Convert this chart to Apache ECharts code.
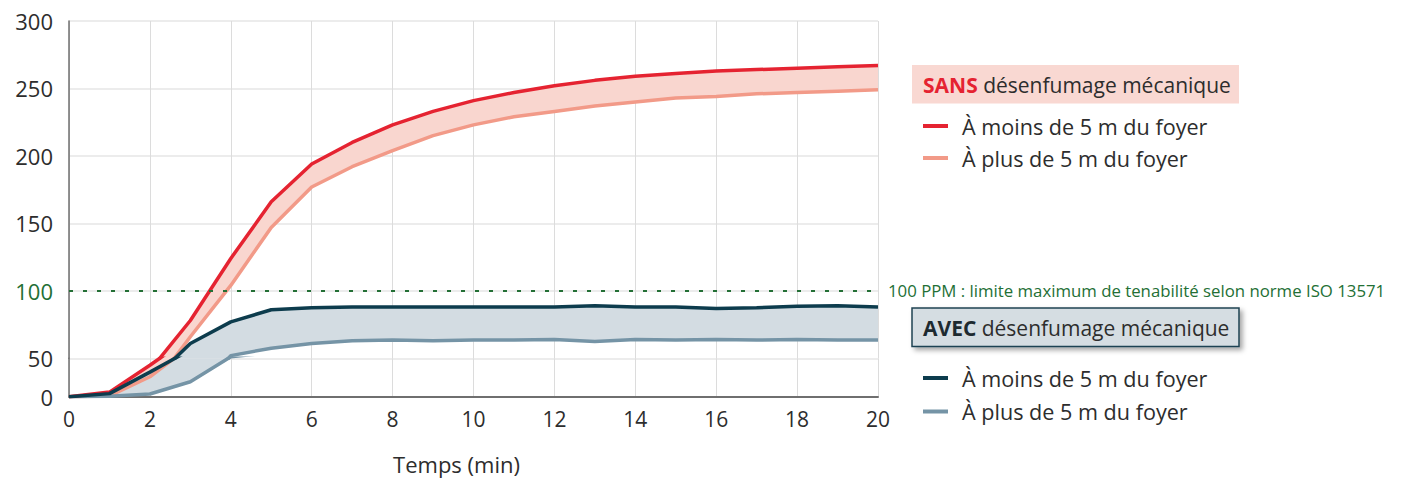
<!DOCTYPE html>
<html>
<head>
<meta charset="utf-8">
<script src="https://cdn.jsdelivr.net/npm/echarts@6/dist/echarts.min.js"></script>
<style>
html,body{margin:0;padding:0;background:#fff;}
#chart{width:1428px;height:479px;}
</style>
</head>
<body>
<div id="chart"></div>
<script>
// ---- Data ----
const minutes = ['0','1','2','3','4','5','6','7','8','9','10','11','12','13','14','15','16','17','18','19','20'];
const sansMoins = [0, 6, 41, 78, 124, 166, 194, 210, 223, 233, 241, 247, 252, 256, 259, 261, 263, 264, 265, 266, 267];
const sansPlus  = [0, 1, 26, 66, 104, 147, 177, 192, 204, 215, 223, 229, 233, 237, 240, 243, 244, 246, 247, 248, 249];
const avecMoins = [0, 4, 32, 61, 77, 86, 87.5, 88, 88, 88, 88, 88, 88, 89, 88, 88, 87, 87.5, 88.5, 89, 88];
const avecPlus  = [0, 0.5, 3.5, 19.5, 52, 57.5, 61, 63, 63.5, 63, 63.5, 63.5, 64, 62.5, 64, 63.5, 64, 63.5, 64, 63.5, 63.5];
const limitValue = 100;
const limitLabel = '100 PPM : limite maximum de tenabilité selon norme ISO 13571';
const xName = 'Temps (min)';
const legendSans = ['SANS', ' désenfumage mécanique'];
const legendAvec = ['AVEC', ' désenfumage mécanique'];
const legendMoins = 'À moins de 5 m du foyer';
const legendPlus = 'À plus de 5 m du foyer';

// ---- Styles ----
const FONT = '"Open Sans", "Noto Sans", sans-serif';
const C = {
  red: '#e52331', salmon: '#f29a88', redBand: '#f9d6cf',
  navy: '#0d3c4d', slate: '#7594a6', blueBand: '#d3dce2',
  green: '#236f35', text: '#2d2d2d', axis: '#6f6f6f'
};

const diff = (up, lo) => up.map((u, i) => u - lo[i]);

const chart = echarts.init(document.getElementById('chart'), null, {renderer: 'svg'});

const GL = 69, GW = 809, TOP = 21, MID = 358.3, BOT = 396.7;

function seriesFor(g) {
  const base = {type: 'line', xAxisIndex: g, yAxisIndex: g, symbol: 'none', silent: true, animation: false};
  const s = [];
  s.push(Object.assign({}, base, {data: sansPlus, stack: 'sans' + g, lineStyle: {width: 0, opacity: 0}, z: 1}));
  s.push(Object.assign({}, base, {data: diff(sansMoins, sansPlus), stack: 'sans' + g, lineStyle: {width: 0, opacity: 0}, areaStyle: {color: C.redBand, opacity: 1}, z: 1}));
  s.push(Object.assign({}, base, {data: avecPlus, stack: 'avec' + g, lineStyle: {width: 0, opacity: 0}, z: 1}));
  s.push(Object.assign({}, base, {data: diff(avecMoins, avecPlus), stack: 'avec' + g, lineStyle: {width: 0, opacity: 0}, areaStyle: {color: C.blueBand, opacity: 1}, z: 1}));
  s.push(Object.assign({}, base, {name: legendPlus, data: sansPlus, lineStyle: {width: 3.5, color: C.salmon}, z: 3}));
  s.push(Object.assign({}, base, {name: legendPlus, data: avecPlus, lineStyle: {width: 3.5, color: C.slate}, z: 3}));
  s.push(Object.assign({}, base, {name: legendMoins, data: sansMoins, lineStyle: {width: 3.5, color: C.red}, z: 4}));
  s.push(Object.assign({}, base, {name: legendMoins, data: avecMoins, lineStyle: {width: 3.5, color: C.navy}, z: 4}));
  return s;
}

const series = seriesFor(0).concat(seriesFor(1));
series[0].markLine = {
  silent: true, symbol: ['none', 'none'], animation: false,
  lineStyle: {type: [4, 10], color: C.green, width: 2},
  label: {show: true, position: 'end', distance: 10, formatter: limitLabel, color: C.green, fontSize: 16.8, fontFamily: FONT},
  data: [{yAxis: limitValue}]
};

const labelStyle = {color: C.text, fontSize: 22, fontFamily: FONT};

function legendBlock(y0, head, boxFill, boxStroke, headColor) {
  const els = [];
  els.push({type: 'rect', shape: {x: 912, y: y0, width: 327, height: 38.5},
    style: boxStroke ? {fill: boxFill, stroke: boxStroke, lineWidth: 1.5, shadowBlur: 5, shadowOffsetX: 3, shadowOffsetY: 3, shadowColor: 'rgba(0,0,0,0.35)'} : {fill: boxFill}});
  els.push({type: 'text', x: 923, y: y0 + 19.5, style: {
    text: '{b|' + head[0] + '}{n|' + head[1] + '}', verticalAlign: 'middle',
    rich: {b: {fontWeight: 'bold', fontSize: 21, fontFamily: FONT, fill: headColor, color: headColor},
           n: {fontSize: 21, fontFamily: FONT, fill: C.text, color: C.text}}
  }});
  return els;
}
function legendItem(y, color, label) {
  return [
    {type: 'line', shape: {x1: 923, y1: y, x2: 948, y2: y}, style: {stroke: color, lineWidth: 4}},
    {type: 'text', x: 962, y: y, style: {text: label, fontSize: 21.6, fontFamily: FONT, fill: C.text, verticalAlign: 'middle'}}
  ];
}

const graphics = [].concat(
  legendBlock(65, legendSans, '#f9d8d2', null, C.red),
  legendItem(126, C.red, legendMoins),
  legendItem(158, C.salmon, legendPlus),
  legendBlock(308, legendAvec, '#d5dde2', '#1f4353', '#1d2a30'),
  legendItem(378, C.navy, legendMoins),
  legendItem(411.5, C.slate, legendPlus)
);

const xCommon = {type: 'category', data: minutes, boundaryGap: false,
  splitLine: {show: true, interval: 1, lineStyle: {color: '#dcdcdc', width: 1}},
  axisTick: {show: false}};

chart.setOption({
  animation: false,
  backgroundColor: '#fff',
  grid: [
    {left: GL, top: TOP, width: GW, height: MID - TOP, outerBoundsMode: 'none', containLabel: false},
    {left: GL, top: MID, width: GW, height: BOT - MID, outerBoundsMode: 'none', containLabel: false}
  ],
  xAxis: [
    Object.assign({}, xCommon, {gridIndex: 0, axisLine: {show: false}, axisLabel: {show: false}}),
    Object.assign({}, xCommon, {gridIndex: 1,
      axisLine: {show: true, onZero: false, lineStyle: {color: C.axis, width: 2}},
      axisLabel: Object.assign({margin: 12, interval: 1}, labelStyle, {fontSize: 21}),
      name: xName, nameLocation: 'middle', nameGap: 56,
      nameTextStyle: {color: C.text, fontSize: 22, fontFamily: FONT, padding: [0, 34, 0, 0]}})
  ],
  yAxis: [
    {type: 'value', gridIndex: 0, min: 50, max: 300, interval: 50,
      axisLine: {show: true, lineStyle: {color: C.axis, width: 1.5}},
      axisTick: {show: false},
      splitLine: {show: true, lineStyle: {color: '#e6e6e6', width: 1.5}},
      axisLabel: Object.assign({margin: 16,
        formatter: v => v === limitValue ? '{g|' + v + '}' : String(v),
        rich: {g: {color: C.green, fontSize: 22, fontFamily: FONT}}}, labelStyle)},
    {type: 'value', gridIndex: 1, min: 0, max: 50, interval: 50,
      axisLine: {show: true, lineStyle: {color: C.axis, width: 1.5}},
      axisTick: {show: false},
      splitLine: {show: false},
      axisLabel: Object.assign({margin: 16, showMaxLabel: false}, labelStyle)}
  ],
  series: series,
  graphic: graphics
});
</script>
</body>
</html>
